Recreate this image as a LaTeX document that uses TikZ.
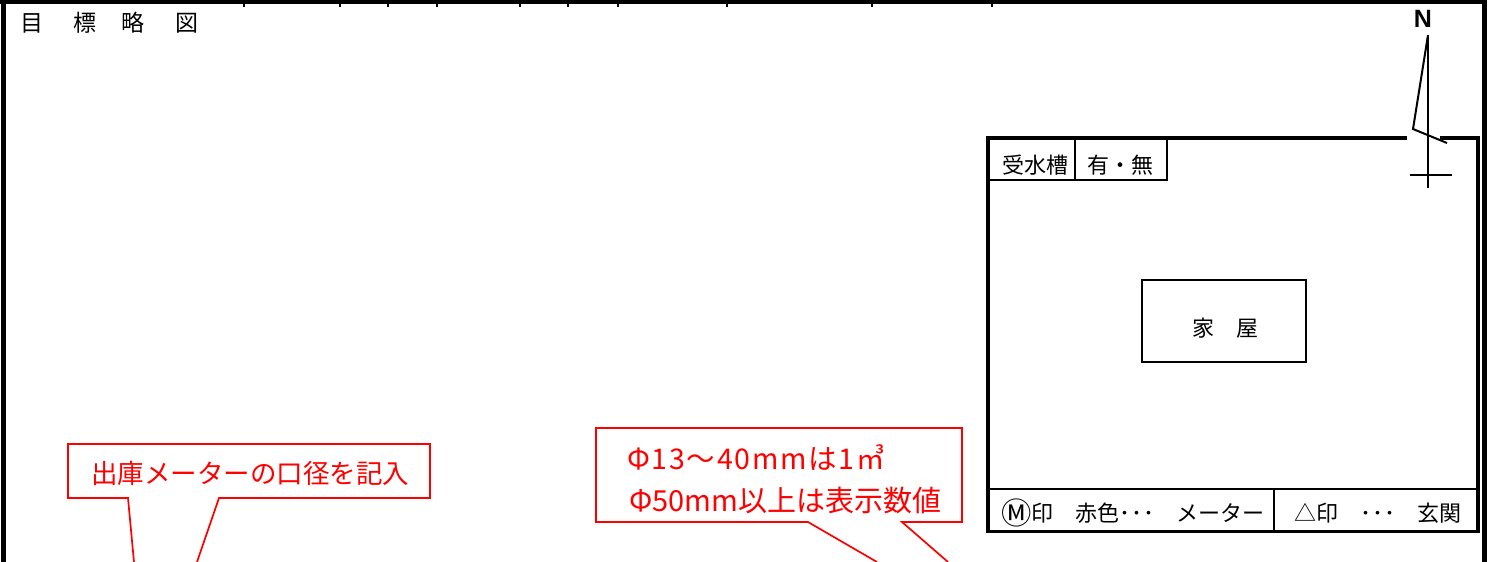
\documentclass[tikz,border=0pt]{standalone}
\usepackage{fontspec}
\newfontfamily\jp{Noto Sans CJK JP}
\newfontfamily\jpspaced[LetterSpace=6]{Noto Sans CJK JP}
\newfontfamily\nfont{Liberation Sans}
\begin{document}
\begin{tikzpicture}[x=1pt,y=-1pt,
  frame/.style={line width=5pt},
  topline/.style={line width=4pt},
  tick/.style={line width=2pt},
  mapline/.style={line width=3.8pt},
  thinline/.style={line width=1.8pt},
  arrowline/.style={line width=2pt},
  redline/.style={draw=red, line width=1.7pt, line join=miter},
  jptext/.style={font=\jp\fontsize{22}{26}\selectfont, inner sep=0pt},
  titletext/.style={font=\jp\fontsize{23}{26}\selectfont, inner sep=0pt},
  redtext/.style={font=\jp\fontsize{26.5}{30}\selectfont, text=red, inner sep=0pt},
  redtextb/.style={font=\jp\fontsize{29}{32}\selectfont, text=red, inner sep=0pt},
  redtextc/.style={font=\jpspaced\fontsize{28.5}{32}\selectfont, text=red, inner sep=0pt}]
\useasboundingbox (0,0) rectangle (1492,562);

% outer frame
\draw[frame] (3,0) -- (3,562);
\draw[frame] (1484.5,0) -- (1484.5,562);
\draw[topline] (0,2) -- (1487,2);
\foreach \tx in {244,340,388,437,520,568,618,727,872,992}
  \draw[tick] (\tx,0) -- (\tx,7);

% title
\node[titletext] (t1) at (32,23) {目};
\node[titletext] (t2) at (85,23) {標};
\node[titletext] (t3) at (133,23) {略};
\node[titletext] (t4) at (187,23) {図};

% map box
\coordinate (mbA) at (1407,138);
\coordinate (mbB) at (1440,138);
\draw[mapline, line join=miter] (mbA) -- (988,138) -- (988,531.5) -- (1478,531.5) -- (1478,138) -- (mbB);

% water tank cell
\draw[thinline] (990,180) -- (1167,180) -- (1167,139);
\draw[thinline] (1075,139) -- (1075,180);
\node[jptext] (tank) at (1035,165) {受水槽};
\node[jptext] (yesno) at (1120,165) {有・無};

% legend row
\draw[thinline] (990,489) -- (1476,489);
\draw[thinline] (1274,489) -- (1274,530);
\node[jptext] (leg1) at (1133,513) {\raisebox{-2.6pt}{\scalebox{1.38}{Ⓜ}}印　赤色･\hspace{1pt}･\hspace{1pt}･　メーター};
\node[jptext] (leg2) at (1378,513) {△印　･\hspace{1pt}･\hspace{1pt}･　玄関};

% house
\node[draw, thinline, minimum width=164pt, minimum height=82pt, inner sep=0pt] (house) at (1224,321) {};
\node[jptext] (housetxt) at (1225,328) {家　屋};

% north arrow
\node[font=\nfont\bfseries\fontsize{25}{28}\selectfont, inner sep=0pt] (N) at (1423,19) {N};
\coordinate (ntip) at (1428,35);
\coordinate (nbot) at (1428,188);
\coordinate (nk1) at (1413,129);
\coordinate (nk2) at (1447,143);
\coordinate (nc1) at (1410,175);
\coordinate (nc2) at (1452,175);
\draw[arrowline] (ntip) -- (nbot);
\draw[arrowline] (ntip) -- (nk1) -- (nk2);
\draw[arrowline] (nc1) -- (nc2);

% callout 1
\coordinate (c1a) at (134,562);
\coordinate (c1b) at (197,562);
\draw[redline] (c1a) -- (128,498) -- (68,498) -- (68,444) -- (430,444) -- (430,498) -- (219,498) -- (c1b);
\node[redtext] (c1txt) at (250,473) {出庫メーターの口径を記入};

% callout 2
\coordinate (c2a) at (877,562);
\coordinate (c2b) at (948,562);
\draw[redline] (c2a) -- (808,522) -- (596,522) -- (596,428) -- (962,428) -- (962,522) -- (902,522) -- (c2b);
\node[redtextc, anchor=west] (c2l1) at (627,458) {Φ13～40mmは1㎥};
\node[redtextb, anchor=west] (c2l2) at (629,501) {Φ50mm以上は表示数値};
\end{tikzpicture}
\end{document}
